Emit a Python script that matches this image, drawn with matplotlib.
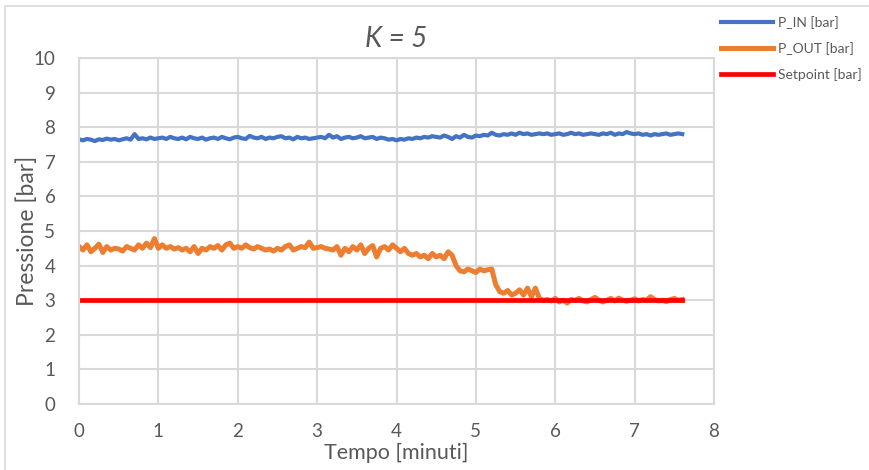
import matplotlib.pyplot as plt
import numpy as np
from matplotlib.patches import Rectangle

plt.rcParams['font.family'] = ['Lato', 'DejaVu Sans']

# pressioni lette ogni 0.05 minuti, da 0 a 7.6
p_in = [
    7.65, 7.62, 7.66, 7.64, 7.60, 7.65, 7.63, 7.67, 7.64, 7.66, 7.62, 7.65, 7.68, 7.64, 7.80, 7.66, 7.68, 7.65, 7.70, 7.66, 7.68,
    7.70, 7.66, 7.72, 7.68, 7.66, 7.70, 7.65, 7.72, 7.68, 7.66, 7.70, 7.64, 7.68, 7.70, 7.66, 7.72, 7.68, 7.65, 7.70, 7.72,
    7.68, 7.66, 7.75, 7.70, 7.68, 7.72, 7.66, 7.70, 7.68, 7.72, 7.74, 7.68, 7.70, 7.65, 7.72, 7.68, 7.70, 7.66, 7.68, 7.70,
    7.72, 7.68, 7.78, 7.70, 7.74, 7.66, 7.70, 7.72, 7.68, 7.70, 7.74, 7.68, 7.70, 7.72, 7.66, 7.70, 7.68, 7.64, 7.66, 7.62,
    7.66, 7.64, 7.68, 7.66, 7.70, 7.68, 7.72, 7.70, 7.74, 7.72, 7.70, 7.76, 7.72, 7.66, 7.74, 7.70, 7.78, 7.72, 7.70, 7.76,
    7.74, 7.78, 7.76, 7.84, 7.78, 7.76, 7.80, 7.78, 7.82, 7.78, 7.84, 7.80, 7.82, 7.78, 7.80, 7.82, 7.80, 7.82, 7.78, 7.80,
    7.82, 7.78, 7.80, 7.84, 7.80, 7.82, 7.78, 7.80, 7.82, 7.80, 7.78, 7.82, 7.80, 7.84, 7.78, 7.82, 7.80, 7.86, 7.82, 7.80,
    7.82, 7.78, 7.80, 7.76, 7.80, 7.78, 7.80, 7.82, 7.78, 7.80, 7.82, 7.80,
]
p_out = [
    4.55, 4.45, 4.60, 4.40, 4.50, 4.62, 4.38, 4.55, 4.45, 4.50, 4.48, 4.42, 4.55, 4.50, 4.45, 4.60, 4.50, 4.65, 4.52, 4.78, 4.50,
    4.60, 4.50, 4.55, 4.48, 4.52, 4.45, 4.50, 4.40, 4.55, 4.35, 4.50, 4.45, 4.55, 4.50, 4.58, 4.45, 4.60, 4.65, 4.50, 4.55,
    4.50, 4.60, 4.52, 4.48, 4.55, 4.50, 4.45, 4.48, 4.42, 4.50, 4.45, 4.55, 4.60, 4.45, 4.50, 4.55, 4.52, 4.68, 4.50, 4.52,
    4.55, 4.50, 4.48, 4.45, 4.55, 4.30, 4.50, 4.40, 4.55, 4.45, 4.60, 4.35, 4.50, 4.58, 4.25, 4.50, 4.55, 4.45, 4.60, 4.50,
    4.40, 4.50, 4.35, 4.30, 4.35, 4.25, 4.30, 4.20, 4.35, 4.25, 4.30, 4.20, 4.40, 4.30, 4.00, 3.85, 3.82, 3.90, 3.85, 3.80,
    3.90, 3.85, 3.88, 3.90, 3.45, 3.25, 3.20, 3.28, 3.15, 3.20, 3.30, 3.15, 3.35, 3.10, 3.35, 3.05, 3.00, 3.02, 2.98, 3.05,
    2.95, 3.00, 2.92, 3.02, 3.00, 3.05, 2.98, 2.95, 3.02, 3.08, 3.00, 2.95, 3.00, 3.05, 2.98, 3.06, 3.00, 2.97, 3.00, 3.04,
    2.98, 3.02, 3.00, 3.10, 3.02, 2.98, 3.00, 2.96, 3.02, 3.05, 3.00, 3.02,
]
setpoint = 3.0
t_end = 7.6

t = np.linspace(0, t_end, len(p_in))
t_out = np.linspace(0, t_end, len(p_out))

grey = '#595959'
fig = plt.figure(figsize=(8.7, 4.7), dpi=100)
ax = fig.add_axes([0.0908, 0.1404, 0.7299, 0.7362])

ax.plot(t, p_in, color='#4472C4', lw=3.0, label='P_IN [bar]')
ax.plot(t_out, p_out, color='#ED7D31', lw=3.6, label='P_OUT [bar]')
ax.plot([0, t_end], [setpoint, setpoint], color='#FF0000', lw=3.4, label='Setpoint [bar]')

ax.set_xlim(0, 8)
ax.set_ylim(0, 10)
ax.set_xticks(range(0, 9))
ax.set_yticks(range(0, 11))
ax.grid(True, color='#d9d9d9', lw=1.5)
ax.set_axisbelow(True)
for s in ax.spines.values():
    s.set_color('#d9d9d9')
    s.set_linewidth(1.5)
ax.tick_params(length=0, labelsize=13.5, colors=grey)
ax.tick_params(axis='x', pad=14)
ax.tick_params(axis='y', pad=17)

ax.set_title('K = 5', fontsize=20, style='italic', color=grey, pad=8)
ax.set_xlabel('Tempo [minuti]', fontsize=15.5, color=grey, labelpad=2)
ax.set_ylabel('Pressione [bar]', fontsize=16.5, color=grey, labelpad=-3)

ax.legend(loc='upper left', bbox_to_anchor=(0.814, 0.993), bbox_transform=fig.transFigure,
          frameon=False, fontsize=10, handlelength=3.8, labelspacing=0.95,
          handletextpad=0.35, labelcolor=grey)

# bordo del grafico
fig.patches.append(Rectangle((5 / 870, -0.1), 1.2, 1.1 - 6 / 470, transform=fig.transFigure,
                             fill=False, edgecolor='#d9d9d9', lw=1.2))

fig.savefig('out.png', dpi=100)
